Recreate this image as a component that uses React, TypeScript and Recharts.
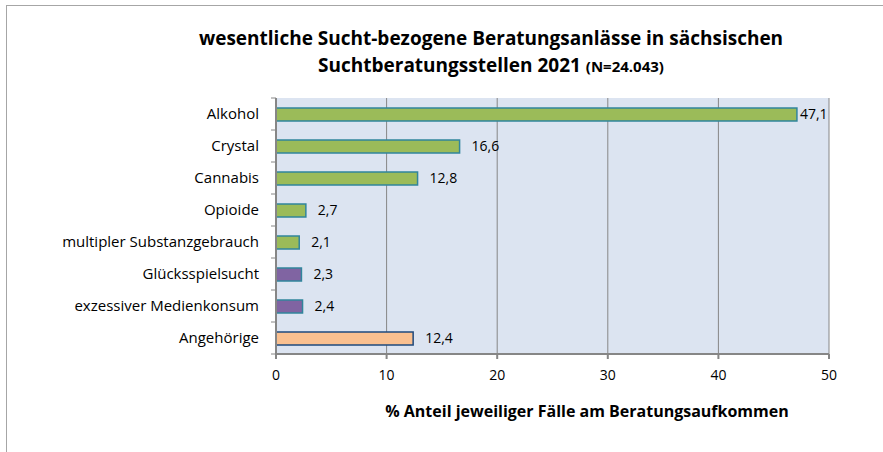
import { BarChart, Bar, XAxis, YAxis, CartesianGrid, Cell, LabelList } from 'recharts';

const categories = [
  'Alkohol',
  'Crystal',
  'Cannabis',
  'Opioide',
  'multipler Substanzgebrauch',
  'Glücksspielsucht',
  'exzessiver Medienkonsum',
  'Angehörige',
];
const anteil = [47.1, 16.6, 12.8, 2.7, 2.1, 2.3, 2.4, 12.4];
const gruppe = ['substanz', 'substanz', 'substanz', 'substanz', 'substanz', 'verhalten', 'verhalten', 'angehoerige'];
const xTicks = [0, 10, 20, 30, 40, 50];

const colors: Record<string, { fill: string; stroke: string }> = {
  substanz: { fill: '#9bbb59', stroke: '#31859c' },
  verhalten: { fill: '#8064a2', stroke: '#31859c' },
  angehoerige: { fill: '#fac090', stroke: '#1f497d' },
};

const data = categories.map((name, i) => ({ name, value: anteil[i], group: gruppe[i] }));

const FONT = '"Open Sans", Calibri, sans-serif';
const AXIS = '#868686';
const W = 883;
const H = 452;
const TOP = 98;
const BOTTOM = 354;
const BAND = (BOTTOM - TOP) / categories.length;

const CategoryTick = (props: any) => {
  const { x, y, payload, index } = props;
  const axisX = x + 17;
  return (
    <g>
      <line x1={axisX - 5} x2={axisX} y1={y - BAND / 2} y2={y - BAND / 2} stroke={AXIS} />
      {index === categories.length - 1 && (
        <line x1={axisX - 5} x2={axisX} y1={y + BAND / 2} y2={y + BAND / 2} stroke={AXIS} />
      )}
      <text x={x} y={y} dy="0.35em" textAnchor="end" fontSize={15} fill="#000" fontFamily={FONT}>
        {payload.value}
      </text>
    </g>
  );
};

const ValueLabel = (props: any) => {
  const { x, y, width, height, value } = props;
  const gap = value > 45 ? 3 : 12;
  return (
    <text x={x + width + gap} y={y + height / 2} dy="0.35em" fontSize={14} fill="#000" fontFamily={FONT}>
      {String(value).replace('.', ',')}
    </text>
  );
};

export default function App() {
  return (
    <div style={{ position: 'absolute', left: 0, top: 0, width: W, height: H, overflow: 'hidden', background: '#fff', fontFamily: FONT }}>
      <div style={{ position: 'absolute', left: 6, top: 5, width: 1000, height: 1000, border: '1.5px solid #a6a6a6' }} />
      <div style={{ position: 'absolute', left: 141, width: 700, top: 25, textAlign: 'center', fontWeight: 700, fontSize: 19, lineHeight: '27px', color: '#000' }}>
        wesentliche Sucht-bezogene Beratungsanlässe in sächsischen
        <br />
        Suchtberatungsstellen 2021 <span style={{ fontSize: 15 }}>(N=24.043)</span>
      </div>
      <div style={{ position: 'absolute', left: 337, width: 500, top: 400, textAlign: 'center', fontWeight: 700, fontSize: 16, color: '#000' }}>
        % Anteil jeweiliger Fälle am Beratungsaufkommen
      </div>
      <div style={{ position: 'absolute', left: 0, top: 0 }}>
        <BarChart
          width={W}
          height={H}
          data={data}
          layout="vertical"
          margin={{ top: TOP, right: W - 829, bottom: H - BOTTOM - 30, left: 16 }}
          barCategoryGap={0}
        >
          <CartesianGrid horizontal={false} stroke={AXIS} fill="#dce4f1" fillOpacity={1} />
          <XAxis
            type="number"
            domain={[0, 50]}
            ticks={xTicks}
            height={30}
            stroke={AXIS}
            strokeWidth={2}
            tickSize={5}
            tickMargin={11}
            tick={{ fill: '#000', fontSize: 14, fontFamily: FONT }}
          />
          <YAxis
            type="category"
            dataKey="name"
            width={260}
            stroke={AXIS}
            strokeWidth={2}
            tickLine={false}
            tickSize={5}
            tickMargin={12}
            tick={<CategoryTick />}
            interval={0}
          />
          <Bar dataKey="value" barSize={13} isAnimationActive={false}>
            {data.map((d, i) => (
              <Cell key={i} fill={colors[d.group].fill} stroke={colors[d.group].stroke} strokeWidth={1.5} />
            ))}
            <LabelList dataKey="value" content={<ValueLabel />} />
          </Bar>
        </BarChart>
      </div>
    </div>
  );
}
